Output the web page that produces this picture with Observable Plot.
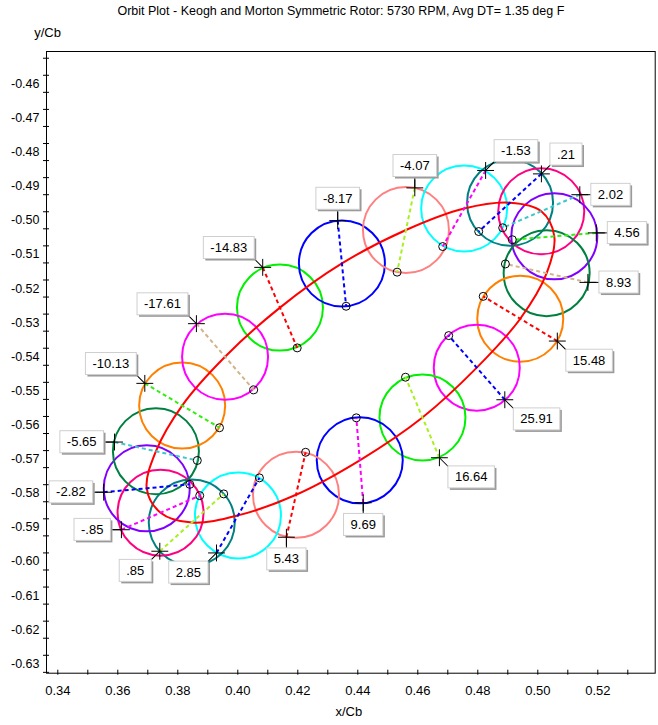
<!DOCTYPE html>
<html><head><meta charset="utf-8">
<script src="https://cdn.jsdelivr.net/npm/d3@7"></script>
<script src="https://cdn.jsdelivr.net/npm/@observablehq/plot@0.6"></script>
<style>body{margin:0;background:#fff} svg{display:block}</style>
</head><body>
<script>
// ---- data, in order around the orbit ----
const labels = [-14.83, -8.17, -4.07, -1.53, 0.21, 2.02, 4.56, 8.93, 15.48, 25.91,
                16.64, 9.69, 5.43, 2.85, 0.85, -0.85, -2.82, -5.65, -10.13, -17.61];
// "+" marker positions (x/Cb, y/Cb)
const plusX = [0.4083, 0.4333, 0.4590, 0.4826, 0.5012, 0.5140, 0.5195, 0.5167, 0.5065, 0.4890,
               0.4672, 0.4418, 0.4162, 0.3929, 0.3740, 0.3612, 0.3553, 0.3589, 0.3690, 0.3862];
const plusY = [-0.5138, -0.5001, -0.4905, -0.4854, -0.4864, -0.4925, -0.5037, -0.5182, -0.5354, -0.5526,
               -0.5696, -0.5828, -0.5929, -0.5975, -0.5970, -0.5907, -0.5797, -0.5650, -0.5478, -0.5303];
// "o" marker positions (opposite end of each diameter)
const ringX = [0.4198, 0.4361, 0.4531, 0.4683, 0.4803, 0.4883, 0.4915, 0.4892, 0.4818, 0.4703,
               0.4559, 0.4395, 0.4226, 0.4072, 0.3953, 0.3873, 0.3840, 0.3865, 0.3939, 0.4053];
const ringY = [-0.5374, -0.5252, -0.5152, -0.5077, -0.5033, -0.5022, -0.5057, -0.5128, -0.5223, -0.5338,
               -0.5460, -0.5579, -0.5680, -0.5755, -0.5802, -0.5807, -0.5774, -0.5704, -0.5608, -0.5497];
const xTickLabels = [0.34, 0.36, 0.38, 0.40, 0.42, 0.44, 0.46, 0.48, 0.50, 0.52];
const yTickLabels = [-0.46, -0.47, -0.48, -0.49, -0.50, -0.51, -0.52, -0.53, -0.54, -0.55, -0.56,
                     -0.57, -0.58, -0.59, -0.60, -0.61, -0.62, -0.63];
const titleText = "Orbit Plot - Keogh and Morton Symmetric Rotor: 5730 RPM, Avg DT= 1.35 deg F";

// ---- styles ----
const circleColors = ["#00f000", "#0000ff", "#ff8080", "#00ffff", "#008080", "#ff0080", "#8000ff", "#008040", "#ff8000", "#ff00ff",
                      "#00f000", "#0000ff", "#ff8080", "#00ffff", "#008080", "#ff0080", "#8000ff", "#008040", "#ff8000", "#ff00ff"];
const dashColors = ["#ff0000", "#0000ff", "#a8f020", "#ff00ff", "#0000ff", "#40c8c8", "#30ee10", "#d2b48c", "#ff0000", "#0000ff",
                    "#a8f020", "#ff00ff", "#ff0000", "#0000ff", "#a8f020", "#ff00ff", "#0000ff", "#40c8c8", "#30ee10", "#d2b48c"];

const fmt = v => v.toFixed(2).replace(/^(-?)0\./, "$1.");

const rows = labels.map((v, i) => {
  const cx = (plusX[i] + ringX[i]) / 2, cy = (plusY[i] + ringY[i]) / 2;
  const a = Math.atan2(plusY[i] - cy, plusX[i] - cx);
  const s = ((Math.round(a / (Math.PI / 4)) % 8) + 8) % 8;
  return {label: v, px: plusX[i], py: plusY[i], ox: ringX[i], oy: ringY[i], cx, cy,
          ring: circleColors[i], dash: dashColors[i],
          ux: Math.round(Math.cos(s * Math.PI / 4)), uy: -Math.round(Math.sin(s * Math.PI / 4)),
          rotate: 90 - 45 * s, diag: s % 2 === 1};
});
const labelSet = new Set(rows.map(d => fmt(d.label)));

const xMinor = d3.range(34, 54).map(k => k / 100);
const yMinor = d3.range(-1265, -901, 10).map(k => k / 2000);

const padX = 7, halfH = 11, gapS = 11, gapD = 8.5;
const labelMarks = [];
for (const ux of [-1, 0, 1]) for (const uy of [-1, 0, 1]) {
  if (!ux && !uy) continue;
  const sub = rows.filter(d => d.ux === ux && d.uy === uy);
  if (!sub.length) continue;
  const g = (ux && uy) ? gapD : gapS;
  labelMarks.push(Plot.text(sub, {
    x: "px", y: "py", text: d => fmt(d.label),
    textAnchor: ux > 0 ? "start" : ux < 0 ? "end" : "middle",
    lineAnchor: "middle",
    dx: ux * (g + padX), dy: uy * (g + halfH),
    fontSize: 13, fill: "black"
  }));
}
const leaderShape = {draw(ctx, l) { ctx.moveTo(0, 0); ctx.lineTo(0, -l); }};

const svg = Plot.plot({
  width: 658, height: 725,
  marginLeft: 46, marginRight: 3.3, marginTop: 51, marginBottom: 52.3,
  x: {domain: [0.33623, 0.53913], axis: null},
  y: {domain: [-0.63275, -0.45053], axis: null},
  color: {type: "identity"},
  style: {fontFamily: "'Liberation Sans', Arial, sans-serif", fontSize: "12px", background: "white", color: "black"},
  marks: [
    Plot.frame({stroke: "black"}),
    Plot.axisY({ticks: yMinor, tickSize: 6, dx: 3, fill: "none", label: null}),
    Plot.axisY({ticks: yTickLabels, tickSize: 0, tickPadding: 7, stroke: "none", label: null,
                tickFormat: d => d.toFixed(2), fontSize: 12.5}),
    Plot.axisX({ticks: xMinor, tickSize: 5, dy: -3, fill: "none", label: null}),
    Plot.axisX({ticks: xTickLabels, tickSize: 0, tickPadding: 13, stroke: "none", label: null,
                tickFormat: d => d.toFixed(2), fontSize: 13}),
    Plot.dot(rows, {x: "cx", y: "cy", r: 43, stroke: "ring", strokeWidth: 2, fill: "none"}),
    Plot.line(rows, {x: "cx", y: "cy", curve: "catmull-rom-closed", stroke: "#ff0000", strokeWidth: 2}),
    Plot.link(rows, {x1: "px", y1: "py", x2: "ox", y2: "oy", stroke: "dash", strokeWidth: 2, strokeDasharray: "4,3"}),
    Plot.dot(rows, {x: "ox", y: "oy", r: 4, stroke: "black", strokeWidth: 1, fill: "none"}),
    Plot.dot(rows, {x: "px", y: "py", r: 5.5, symbol: "plus", stroke: "black", strokeWidth: 1}),
    Plot.vector(rows.filter(d => !d.diag), {x: "px", y: "py", rotate: "rotate", length: gapS, anchor: "start", stroke: "black", strokeWidth: 1, shape: leaderShape}),
    Plot.vector(rows.filter(d => d.diag), {x: "px", y: "py", rotate: "rotate", length: gapD * Math.SQRT2, anchor: "start", stroke: "black", strokeWidth: 1, shape: leaderShape}),
    ...labelMarks,
    Plot.text([titleText], {text: d => d, frameAnchor: "top", dx: -10, dy: -41, lineAnchor: "middle", fontSize: 12.5}),
    Plot.text(["y/Cb"], {text: d => d, frameAnchor: "top-left", dx: 1, dy: -19, textAnchor: "middle", lineAnchor: "middle", fontSize: 13}),
    Plot.text(["x/Cb"], {text: d => d, frameAnchor: "bottom", dx: -2, dy: 39, lineAnchor: "middle", fontSize: 13})
  ]
});
document.body.append(svg);

// label boxes behind each label text
const NS = "http://www.w3.org/2000/svg";
Array.from(svg.querySelectorAll("text"))
  .filter(t => labelSet.has(t.textContent) && !(t.closest("g[aria-label]") || {getAttribute: () => ""}).getAttribute("aria-label").includes("axis"))
  .forEach(t => {
    const bb = t.getBBox();
    const tr = t.getAttribute("transform");
    const cy = bb.y + bb.height / 2;
    const mk = (off, fill, stroke) => {
      const r = document.createElementNS(NS, "rect");
      r.setAttribute("x", bb.x - padX + off);
      r.setAttribute("y", cy - halfH + off);
      r.setAttribute("width", bb.width + 2 * padX);
      r.setAttribute("height", 2 * halfH);
      r.setAttribute("fill", fill);
      r.setAttribute("stroke", stroke);
      r.setAttribute("stroke-width", 1);
      if (tr) r.setAttribute("transform", tr);
      t.parentNode.insertBefore(r, t);
    };
    mk(2, "#9a9a9a", "none");
    mk(0, "#ffffff", "#cfcfcf");
  });
</script>
</body></html>
